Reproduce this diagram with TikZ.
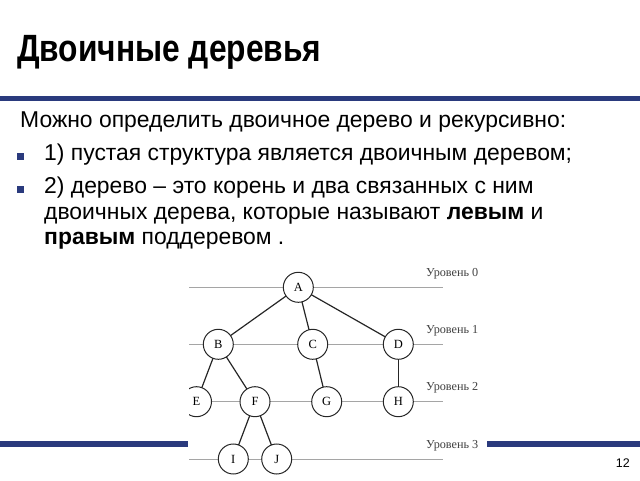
\documentclass[tikz,border=0pt]{standalone}
\usepackage{fontspec}
\setmainfont{Liberation Sans}
\newfontfamily\trfont{Liberation Serif}
\usepackage{tikz}
\usepackage{tkz-graph}
\definecolor{barblue}{RGB}{42,58,125}
\definecolor{levgray}{RGB}{165,165,165}
\tikzset{
  line/.style={anchor=base west, inner sep=0pt, font=\fontsize{22.9}{26}\selectfont},
  bull/.style={fill=barblue, minimum size=7pt, inner sep=0pt},
  level/.style={draw=levgray, line width=0.7pt},
  lvltext/.style={anchor=west, inner sep=0pt, text=black!75, font=\trfont\fontsize{12.2}{14}\selectfont}
}
\begin{document}
\begin{tikzpicture}[x=1pt,y=1pt]
  \useasboundingbox (0,0) rectangle (640,480);
  % title and bars
  \node[anchor=base west, inner sep=0pt, xscale=0.835, font=\bfseries\fontsize{38}{40}\selectfont] (title) at (17,418) {Двоичные деревья};
  \fill[barblue] (0,379) rectangle (640,384);
  \fill[barblue] (0,33.5) rectangle (188,39.5);
  \fill[barblue] (487,33.5) rectangle (640,39.5);
  \node[anchor=base east, inner sep=0pt, font=\fontsize{12.5}{14}\selectfont] (page) at (630,13) {12};
  % text
  \node[line] (intro) at (20,352) {Можно определить двоичное дерево и рекурсивно:};
  \node[bull] (b1) at (20.5,323.5) {};
  \node[line] (item1) at (44,319) {1) пустая структура является двоичным деревом;};
  \node[bull] (b2) at (20.5,290.5) {};
  \node[line] (item2) at (44,286) {2) дерево -- это корень и два связанных с ним};
  \node[line] (item2b) at (44,260) {двоичных дерева, которые называют \textbf{левым} и};
  \node[line] (item2c) at (44,235) {\textbf{правым} поддеревом .};
  % tree
  \begin{scope}
    \clip (189,0) rectangle (500,222);
    \foreach \ly/\lv in {192.7/0,135.7/1,78.3/2,20.5/3}{
      \draw[level] (189,\ly) -- (443,\ly);
      \node[lvltext] (lev\lv) at (426,\ly+14) {Уровень \lv};
    }
    \GraphInit[vstyle=Normal]
    \tikzset{VertexStyle/.style={shape=circle, draw=black!85, fill=white, line width=1pt,
        minimum size=30pt, inner sep=0pt, font=\trfont\fontsize{12.5}{13}\selectfont},
      EdgeStyle/.style={draw=black!85, line width=1.2pt}}
    \Vertex[x=298.3,y=192.7]{A}
    \Vertex[x=218.3,y=135.7]{B}
    \Vertex[x=312.7,y=135.7]{C}
    \Vertex[x=398.3,y=135.7]{D}
    \Vertex[x=196.5,y=78.3,style={fill=none}]{E}
    \Vertex[x=255,y=78.3,style={fill=none}]{F}
    \Vertex[x=326.7,y=78.3,style={fill=none}]{G}
    \Vertex[x=398.3,y=78.3,style={fill=none}]{H}
    \Vertex[x=233.3,y=21]{I}
    \Vertex[x=276.7,y=21]{J}
    \Edge[style={-}](A)(B)
    \Edge[style={-}](A)(C)
    \Edge[style={-}](A)(D)
    \Edge[style={-}](B)(E)
    \Edge[style={-}](B)(F)
    \Edge[style={-}](C)(G)
    \Edge[style={-}](D)(H)
    \Edge[style={-}](F)(I)
    \Edge[style={-}](F)(J)
  \end{scope}
\end{tikzpicture}
\end{document}
